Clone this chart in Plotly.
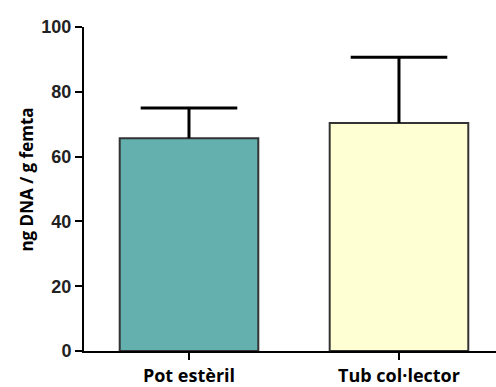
import plotly.graph_objects as go

categories = ["Pot estèril", "Tub col·lector"]
means = [65.7, 70.4]
sem_upper = [9.3, 20.3]
bar_colors = ["#63B0AF", "#FFFFD4"]
y_ticks = [0, 20, 40, 60, 80, 100]

tops = [m + s for m, s in zip(means, sem_upper)]

fig = go.Figure()
fig.add_trace(go.Bar(
    x=[0, 1],
    y=means,
    width=0.66,
    marker=dict(color=bar_colors, line=dict(color="#333333", width=2)),
    error_y=dict(type="data", symmetric=False, array=sem_upper,
                 arrayminus=[0, 0], color="black", thickness=3, width=0),
))
fig.add_trace(go.Scatter(
    x=[0, 1], y=tops, mode="markers",
    marker=dict(symbol="line-ew", size=69, line=dict(color="black", width=3)),
    hoverinfo="skip", cliponaxis=False,
))

fig.update_layout(
    width=496, height=387,
    margin=dict(l=84, r=0, t=27, b=36),
    plot_bgcolor="white", paper_bgcolor="white",
    showlegend=False,
    xaxis=dict(
        range=[-0.5, 1.462], automargin=False,
        tickmode="array", tickvals=[0, 1], ticktext=categories,
        showline=True, linecolor="black", linewidth=2,
        ticks="outside", ticklen=7, tickwidth=2, tickcolor="black",
        tickfont=dict(family="Open Sans", size=18, color="black", weight="bold"),
        showgrid=False, zeroline=False, fixedrange=True,
    ),
    yaxis=dict(
        range=[0, 100], automargin=False,
        tickmode="array", tickvals=y_ticks,
        showline=True, linecolor="black", linewidth=2,
        ticks="outside", ticklen=7, tickwidth=2, tickcolor="black",
        tickfont=dict(family="Liberation Sans", size=18, color="#222222", weight="bold"),
        showgrid=False, zeroline=False,
    ),
    annotations=[dict(
        text="ng DNA / g femta", textangle=-90,
        xref="paper", yref="paper", x=-0.14, y=0.53,
        xanchor="center", yanchor="middle", showarrow=False,
        font=dict(family="Open Sans", size=17, color="black", weight="bold"),
    )],
)

fig.write_html("out.html", config={"displayModeBar": False},
               post_script="document.body.style.margin='0';document.body.style.overflow='hidden';")
